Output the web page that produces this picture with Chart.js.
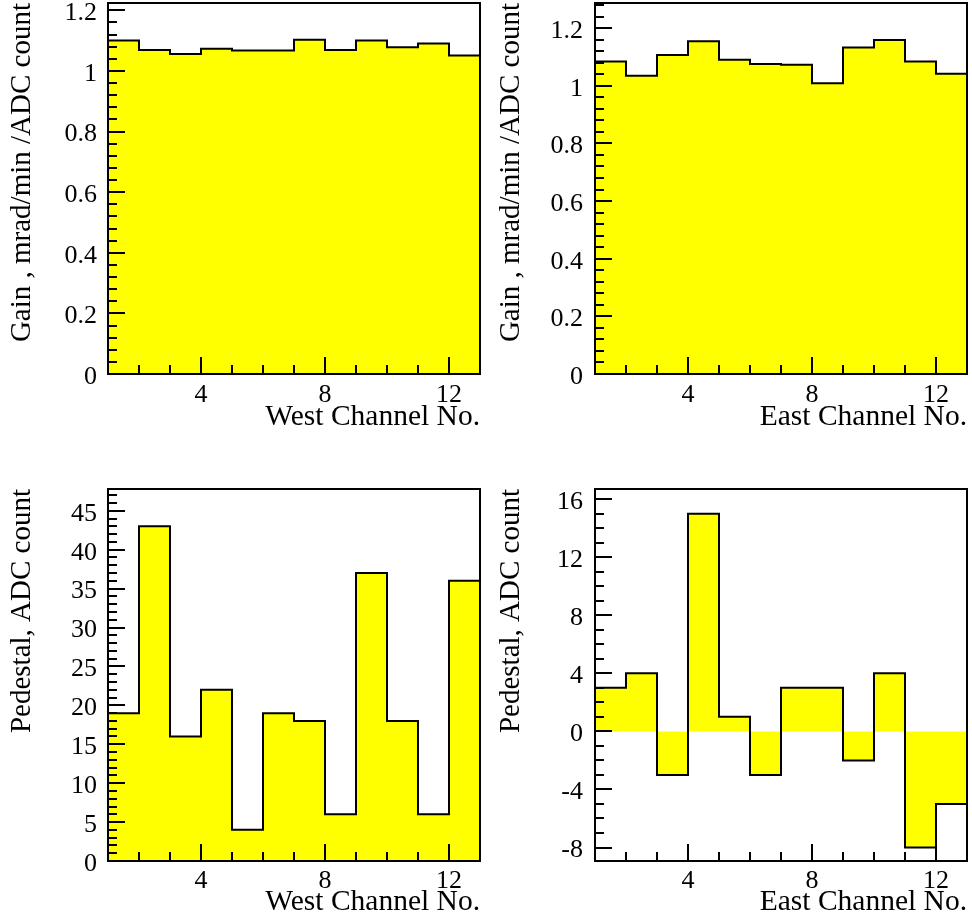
<!DOCTYPE html>
<html><head><meta charset="utf-8">
<script src="https://cdn.jsdelivr.net/npm/chart.js@4.4.1/dist/chart.umd.min.js"></script>
<style>
html,body{margin:0;padding:0;background:#fff;width:972px;height:919px;overflow:hidden}
canvas{position:absolute}
</style></head><body>
<canvas id="c1" width="487" height="486" style="left:0;top:0"></canvas>
<canvas id="c2" width="485" height="486" style="left:487px;top:0"></canvas>
<canvas id="c3" width="487" height="433" style="left:0;top:486px"></canvas>
<canvas id="c4" width="485" height="433" style="left:487px;top:486px"></canvas>
<script>
// ---- data ----
const channels = [1,2,3,4,5,6,7,8,9,10,11,12];
const lastEdge = 13;
const westGain = [1.100,1.069,1.056,1.073,1.067,1.067,1.103,1.069,1.100,1.078,1.090,1.051];
const eastGain = [1.084,1.035,1.107,1.154,1.090,1.075,1.073,1.009,1.133,1.159,1.084,1.042];
const westPed  = [19,43,16,22,4,19,18,6,37,18,6,36];
const eastPed  = [3,4,-3,15,1,-3,3,3,-2,4,-8,-5];
const xTicks = [4,8,12];
const gainTicks = [0,0.2,0.4,0.6,0.8,1,1.2];
const westPedTicks = [0,5,10,15,20,25,30,35,40,45];
const eastPedTicks = [-8,-4,0,4,8,12,16];
const xTitleWest = 'West Channel No.';
const xTitleEast = 'East Channel No.';
const yTitleGain = 'Gain , mrad/min /ADC count';
const yTitlePed = 'Pedestal, ADC count';

const FONT = "'Liberation Serif', 'Times New Roman', serif";

const rootAxes = {
  id: 'rootAxes',
  afterDatasetsDraw(chart, args, opts) {
    const {ctx, chartArea: a, scales} = chart;
    const x = scales.x, y = scales.y;
    ctx.save();
    ctx.strokeStyle = '#000';
    ctx.lineWidth = 2;
    ctx.beginPath();
    const isMajor = (s, v) => s.ticks.some(t => Math.abs(t.value - v) < 1e-6);
    for (let n = Math.ceil(x.min / opts.xMinor - 1e-9); n * opts.xMinor <= x.max + 1e-9; n++) {
      const v = n * opts.xMinor;
      const px = Math.round(x.getPixelForValue(v));
      const len = isMajor(x, v) ? 17 : 9;
      ctx.moveTo(px, a.bottom); ctx.lineTo(px, a.bottom - len);
    }
    for (let n = Math.ceil(y.min / opts.yMinor - 1e-9); n * opts.yMinor <= y.max + 1e-9; n++) {
      const v = n * opts.yMinor;
      const py = Math.round(y.getPixelForValue(v));
      const len = isMajor(y, v) ? 17 : 9;
      ctx.moveTo(a.left, py); ctx.lineTo(a.left + len, py);
    }
    ctx.stroke();
    ctx.strokeRect(a.left, a.top, a.right - a.left, a.bottom - a.top);
    ctx.restore();
  }
};

function histData(vals) {
  const pts = channels.map((c, i) => ({x: c, y: vals[i]}));
  pts.push({x: lastEdge, y: vals[vals.length - 1]});
  return pts;
}

function makeChart(id, vals, cfg) {
  return new Chart(document.getElementById(id), {
    type: 'line',
    data: {datasets: [{
      data: histData(vals),
      stepped: 'before',
      fill: {value: 0},
      backgroundColor: '#ffff00',
      borderColor: '#000',
      borderWidth: 2,
      pointRadius: 0,
      tension: 0
    }]},
    options: {
      responsive: false,
      animation: false,
      devicePixelRatio: 1,
      layout: {padding: cfg.padding},
      plugins: {legend: {display: false}, tooltip: {enabled: false},
        rootAxes: {xMinor: 1, yMinor: cfg.yMinor}},
      scales: {
        x: {
          type: 'linear', min: 1, max: lastEdge,
          afterBuildTicks: s => { s.ticks = xTicks.map(v => ({value: v})); },
          afterFit: s => { s.height = cfg.xHeight; s.paddingLeft = 0; s.paddingRight = 0; s.paddingTop = 0; s.paddingBottom = 0; },
          grid: {display: false, drawTicks: false},
          border: {display: false},
          ticks: {autoSkip: false, maxRotation: 0, color: '#000', padding: cfg.xTickPad,
            font: {family: FONT, size: 26}, callback: v => String(v)},
          title: {display: true, text: cfg.xTitle, align: 'end', color: '#000',
            font: {family: FONT, size: 29.5, lineHeight: 1}, padding: {top: 0, bottom: 2}}
        },
        y: {
          type: 'linear', min: cfg.yMin, max: cfg.yMax,
          afterBuildTicks: s => { s.ticks = cfg.yTicks.map(v => ({value: v})); },
          afterFit: s => { s.width = 108; s.paddingLeft = 0; s.paddingRight = 0; s.paddingTop = 0; s.paddingBottom = 0; },
          grid: {display: false, drawTicks: false},
          border: {display: false},
          ticks: {autoSkip: false, color: '#000', padding: cfg.yTickPad, labelOffset: 3,
            font: {family: FONT, size: 26}, callback: v => String(v)},
          title: {display: true, text: cfg.yTitle, align: 'end', color: '#000',
            font: {family: FONT, size: 29, lineHeight: 1},
            padding: {top: cfg.yTitlePad, bottom: 0}}
        }
      }
    },
    plugins: [rootAxes]
  });
}

makeChart('c1', westGain, {padding: {left: 0, top: 3, right: 7, bottom: 52}, xHeight: 60,
  xTickPad: 6, yTickPad: 11, yMin: 0, yMax: 1.224, yTicks: gainTicks, yMinor: 0.04,
  xTitle: xTitleWest, yTitle: yTitleGain, yTitlePad: 8});
makeChart('c2', eastGain, {padding: {left: 0, top: 3, right: 5, bottom: 52}, xHeight: 60,
  xTickPad: 6, yTickPad: 12, yMin: 0, yMax: 1.287, yTicks: gainTicks, yMinor: 0.04,
  xTitle: xTitleEast, yTitle: yTitleGain, yTitlePad: 10});
makeChart('c3', westPed, {padding: {left: 0, top: 3, right: 7, bottom: 0}, xHeight: 58,
  xTickPad: 5, yTickPad: 11, yMin: 0, yMax: 47.8, yTicks: westPedTicks, yMinor: 1,
  xTitle: xTitleWest, yTitle: yTitlePed, yTitlePad: 8});
makeChart('c4', eastPed, {padding: {left: 0, top: 3, right: 5, bottom: 0}, xHeight: 58,
  xTickPad: 5, yTickPad: 12, yMin: -8.93, yMax: 16.7, yTicks: eastPedTicks, yMinor: 1,
  xTitle: xTitleEast, yTitle: yTitlePed, yTitlePad: 10});
</script>
</body></html>
